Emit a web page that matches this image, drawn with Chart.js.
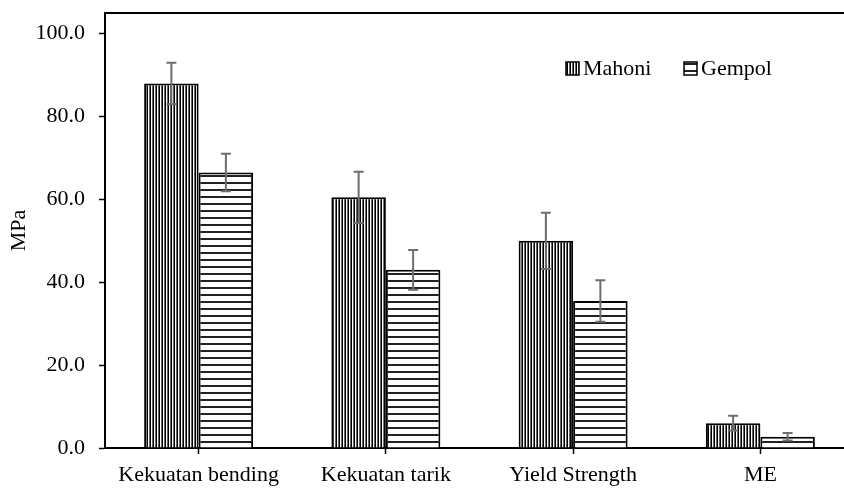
<!DOCTYPE html>
<html>
<head>
    <meta charset="utf-8" />
    <title>MPa</title>
    <style>
        html, body { margin: 0; padding: 0; background: #fff; overflow: hidden; }
        #wrap { width: 860px; height: 488px; }
    </style>
</head>
<body>
    <div id="wrap">
        <canvas id="chart" width="860" height="488"></canvas>
    </div>

    <script src="https://cdn.jsdelivr.net/npm/chart.js"></script>
    <script type="text/javascript">

        // datos
        var categorias = ['Kekuatan bending', 'Kekuatan tarik', 'Yield Strength', 'ME'];
        var mahoni = [88.0, 60.5, 50.0, 6.0];
        var gempol = [66.5, 43.0, 35.5, 2.7];
        var mahoniErr = [5.0, 6.2, 6.8, 1.8];
        var gempolErr = [4.5, 4.8, 5.0, 0.9];
        var yTicks = [0, 20, 40, 60, 80, 100];

        var fuente = '"Liberation Serif", "Times New Roman", serif';

        // patron de rayas verticales (Mahoni)
        function patronVertical() {
            var c = document.createElement('canvas');
            c.width = 3; c.height = 4;
            var g = c.getContext('2d');
            g.fillStyle = '#fff'; g.fillRect(0, 0, 3, 4);
            g.fillStyle = '#000'; g.fillRect(0, 0, 1, 4);
            g.fillStyle = '#666'; g.fillRect(2, 0, 1, 4);
            return g.createPattern(c, 'repeat');
        }

        // patron de rayas horizontales (Gempol)
        function patronHorizontal() {
            var c = document.createElement('canvas');
            c.width = 4; c.height = 7;
            var g = c.getContext('2d');
            g.fillStyle = '#fff'; g.fillRect(0, 0, 4, 7);
            g.fillStyle = '#222'; g.fillRect(0, 0, 4, 2);
            return g.createPattern(c, 'repeat');
        }

        var errores = [mahoniErr, gempolErr];

        // barras de error
        var errorBars = {
            id: 'errorBars',
            afterDatasetsDraw: function (chart) {
                var ctx = chart.ctx;
                var y = chart.scales.y;
                ctx.save();
                ctx.strokeStyle = '#6e6e6e';
                ctx.lineWidth = 2;
                chart.data.datasets.forEach(function (ds, i) {
                    var meta = chart.getDatasetMeta(i);
                    meta.data.forEach(function (bar, j) {
                        var v = ds.data[j], e = errores[i][j];
                        var yt = y.getPixelForValue(v + e);
                        var yb = y.getPixelForValue(v - e);
                        ctx.beginPath();
                        ctx.moveTo(bar.x, yt); ctx.lineTo(bar.x, yb);
                        ctx.moveTo(bar.x - 5, yt); ctx.lineTo(bar.x + 5, yt);
                        ctx.moveTo(bar.x - 5, yb); ctx.lineTo(bar.x + 5, yb);
                        ctx.stroke();
                    });
                });
                ctx.restore();
            }
        };

        // borde superior y leyenda dentro del area
        var marcoLeyenda = {
            id: 'marcoLeyenda',
            afterDraw: function (chart) {
                var ctx = chart.ctx;
                var a = chart.chartArea;
                ctx.save();
                ctx.strokeStyle = '#000';
                ctx.lineWidth = 2;
                ctx.beginPath();
                ctx.moveTo(a.left - 1, a.top);
                ctx.lineTo(a.right, a.top);
                ctx.stroke();

                var posX = [566, 684];
                ctx.font = '22px ' + fuente;
                ctx.textBaseline = 'middle';
                chart.data.datasets.forEach(function (ds, i) {
                    var bx = posX[i], by = 62;
                    ctx.fillStyle = ds.backgroundColor;
                    ctx.fillRect(bx, by, 13, 13);
                    ctx.lineWidth = 1.5;
                    ctx.strokeStyle = '#000';
                    ctx.strokeRect(bx, by, 13, 13);
                    ctx.fillStyle = '#000';
                    ctx.fillText(ds.label, bx + 17, by + 7);
                });
                ctx.restore();
            }
        };

        var ctx = document.getElementById('chart').getContext('2d');
        var myChart = new Chart(ctx, {
            type: 'bar',
            data: {
                labels: categorias,
                datasets: [{
                    label: 'Mahoni',
                    data: mahoni,
                    backgroundColor: patronVertical(),
                    borderColor: '#000',
                    borderWidth: 2,
                    categoryPercentage: 0.582,
                    barPercentage: 1.0
                }, {
                    label: 'Gempol',
                    data: gempol,
                    backgroundColor: patronHorizontal(),
                    borderColor: '#000',
                    borderWidth: 2,
                    categoryPercentage: 0.582,
                    barPercentage: 1.0
                }]
            },
            options: {
                responsive: false,
                animation: false,
                layout: { padding: { top: 13, right: 6, left: 0, bottom: 0 } },
                plugins: {
                    legend: { display: false },
                    tooltip: { enabled: false }
                },
                scales: {
                    x: {
                        grid: {
                            display: true,
                            drawOnChartArea: false,
                            drawTicks: true,
                            tickLength: 6,
                            tickWidth: 1.5,
                            tickColor: '#000',
                            offset: false
                        },
                        border: { color: '#000', width: 2 },
                        ticks: {
                            color: '#000',
                            padding: 8,
                            maxRotation: 0,
                            autoSkip: false,
                            font: { family: fuente, size: 22 }
                        },
                        afterFit: function (s) { s.height = 40; s.paddingLeft = 0; s.paddingRight = 0; }
                    },
                    y: {
                        min: 0,
                        max: 105,
                        afterBuildTicks: function (s) {
                            s.ticks = yTicks.map(function (v) { return { value: v }; });
                        },
                        grid: {
                            display: true,
                            drawOnChartArea: false,
                            drawTicks: true,
                            tickLength: 6,
                            tickWidth: 1.5,
                            tickColor: '#000'
                        },
                        border: { color: '#000', width: 2 },
                        ticks: {
                            color: '#000',
                            padding: 14,
                            font: { family: fuente, size: 22 },
                            callback: function (v) { return Number(v).toFixed(1); }
                        },
                        title: {
                            display: true,
                            text: 'MPa',
                            color: '#000',
                            padding: { top: 6, bottom: 0 },
                            font: { family: fuente, size: 22 }
                        },
                        afterFit: function (s) { s.width = 105; s.paddingTop = 0; s.paddingBottom = 0; }
                    }
                }
            },
            plugins: [errorBars, marcoLeyenda]
        });

    </script>
</body>
</html>
